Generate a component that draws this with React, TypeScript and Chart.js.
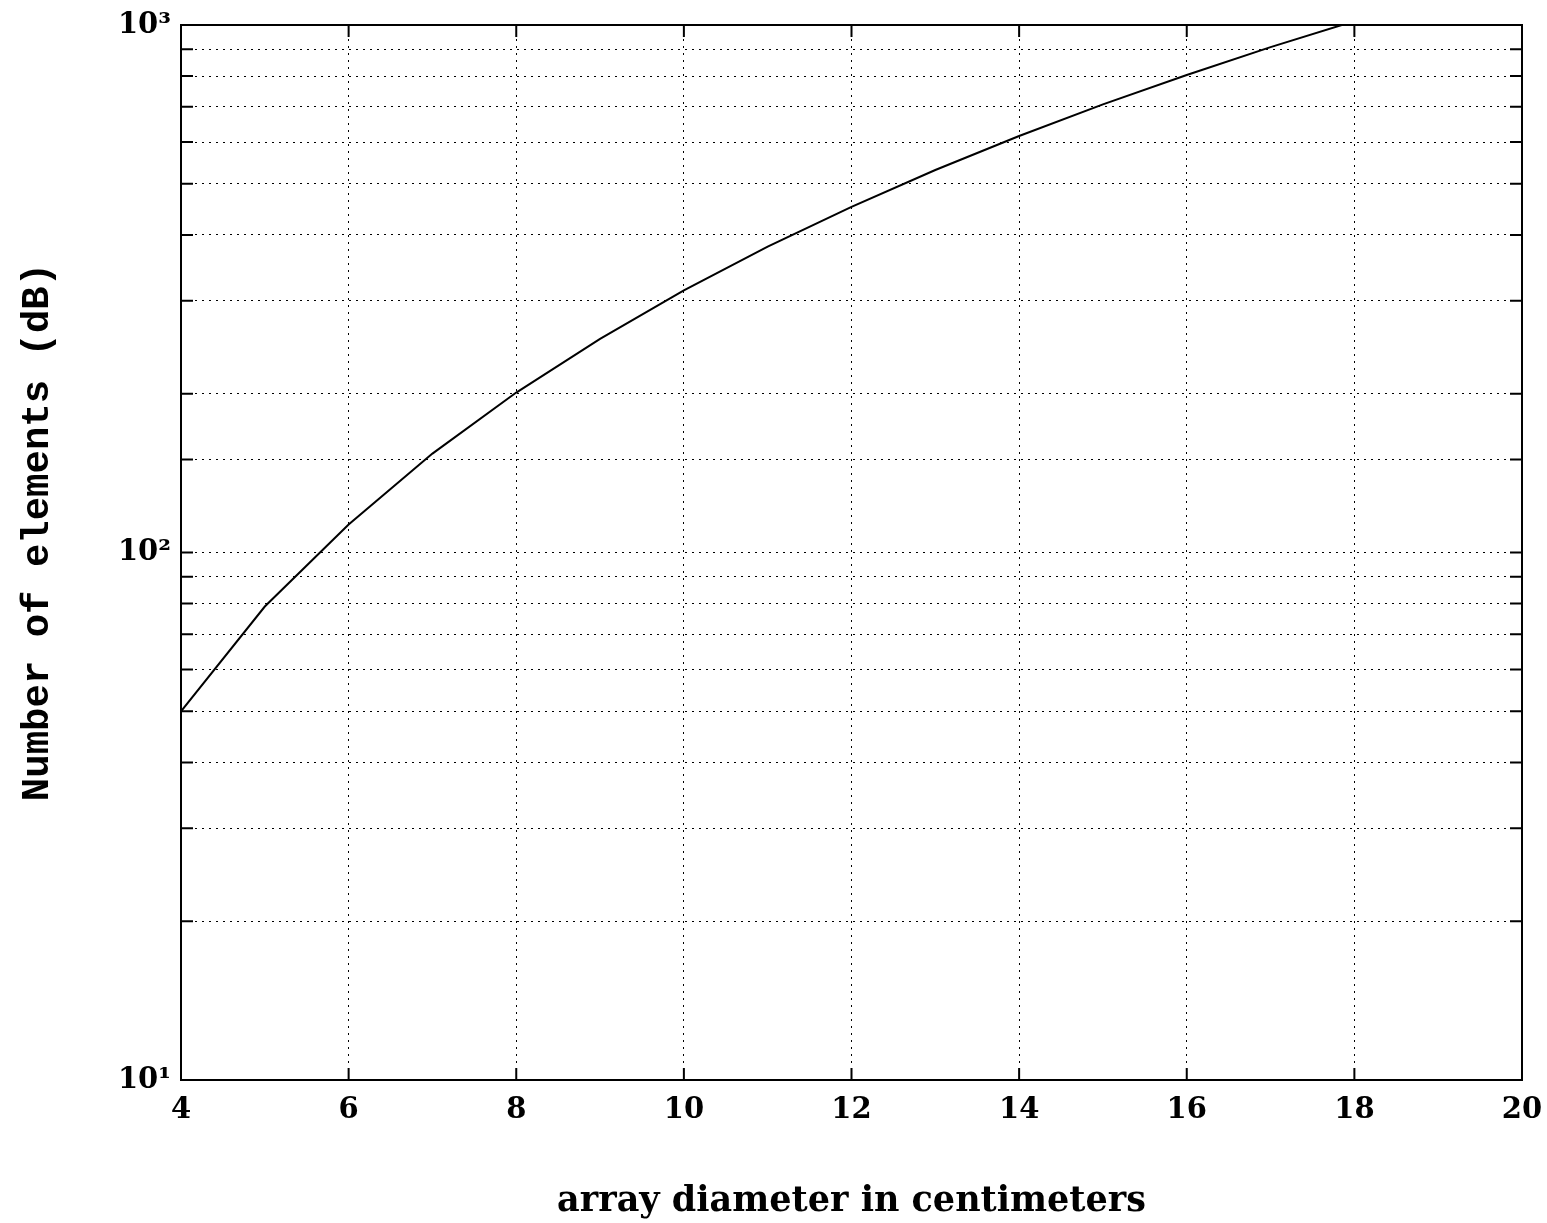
import React, { useEffect, useRef } from "react";
import { Chart, registerables } from "chart.js";

Chart.register(...registerables);

const diameters = [4, 5, 6, 7, 8, 9, 10, 11, 12, 13, 14, 15, 16, 17, 18];
const elements = [50, 79, 113, 154, 201, 254, 314, 380, 452, 531, 616, 707, 804, 908, 1017];
const yTickLabels: Record<number, string> = { 10: "10¹", 100: "10²", 1000: "10³" };
const xTitle = "array diameter in centimeters";
const yTitle = "Number of elements (dB)";

const framePlugin = {
  id: "frameTicks",
  afterDraw(chart: any) {
    const { ctx, chartArea: a, scales } = chart;
    ctx.save();
    ctx.strokeStyle = "#000";
    ctx.lineWidth = 2;
    ctx.setLineDash([]);
    ctx.strokeRect(a.left, a.top, a.right - a.left, a.bottom - a.top);
    const y = scales.y;
    y.ticks.forEach((t: any) => {
      const py = y.getPixelForValue(t.value);
      if (py <= a.top + 1 || py >= a.bottom - 1) return;
      ctx.beginPath();
      ctx.moveTo(a.left, py);
      ctx.lineTo(a.left + 12, py);
      ctx.moveTo(a.right, py);
      ctx.lineTo(a.right - 12, py);
      ctx.stroke();
    });
    const x = scales.x;
    x.ticks.forEach((t: any) => {
      const px = x.getPixelForValue(t.value);
      if (px <= a.left + 1 || px >= a.right - 1) return;
      ctx.beginPath();
      ctx.moveTo(px, a.bottom);
      ctx.lineTo(px, a.bottom - 12);
      ctx.moveTo(px, a.top);
      ctx.lineTo(px, a.top + 12);
      ctx.stroke();
    });
    // y axis title
    ctx.translate(38, 532);
    ctx.rotate(-Math.PI / 2);
    ctx.fillStyle = "#000";
    ctx.font = "bold 39px Liberation Mono, Courier New, monospace";
    ctx.textAlign = "center";
    ctx.textBaseline = "middle";
    ctx.fillText(yTitle, 0, 0);
    ctx.restore();
  },
};

export default function App() {
  const ref = useRef<HTMLCanvasElement>(null);
  useEffect(() => {
    if (!ref.current) return;
    const chart = new Chart(ref.current, {
      type: "line",
      data: {
        datasets: [
          {
            data: diameters.map((d, i) => ({ x: d, y: elements[i] })),
            borderColor: "#000",
            borderWidth: 2,
            pointRadius: 0,
            tension: 0,
            fill: false,
          },
        ],
      },
      options: {
        animation: false,
        responsive: false,
        layout: { padding: { left: 0, top: 25, right: 25, bottom: 0 } },
        plugins: { legend: { display: false }, tooltip: { enabled: false } },
        scales: {
          x: {
            type: "linear",
            min: 4,
            max: 20,
            afterFit: (s: any) => {
              s.height = 143;
              s.paddingLeft = 0;
              s.paddingRight = 0;
            },
            ticks: {
              stepSize: 2,
              color: "#000",
              padding: 13,
              font: { family: "DejaVu Serif, serif", weight: "bold", size: 29 },
            },
            grid: { color: "#000", lineWidth: 1, drawTicks: false },
            border: { display: false, dash: [2, 5] },
            title: {
              display: true,
              text: xTitle,
              color: "#000",
              padding: { top: 0, bottom: 0 },
              font: { family: "DejaVu Serif, serif", weight: "bold", size: 35 },
            },
          },
          y: {
            type: "logarithmic",
            min: 10,
            max: 1000,
            afterFit: (s: any) => {
              s.width = 181;
              s.paddingTop = 0;
              s.paddingBottom = 0;
            },
            ticks: {
              autoSkip: false,
              color: "#000",
              padding: 10,
              font: { family: "DejaVu Serif, serif", weight: "bold", size: 29 },
              callback: (v: any) => yTickLabels[Number(v)] ?? "",
            },
            grid: { color: "#000", lineWidth: 1, drawTicks: false },
            border: { display: false, dash: [2, 5] },
            title: { display: false },
          },
        },
      },
      plugins: [framePlugin],
    });
    return () => chart.destroy();
  }, []);
  return (
    <div style={{ position: "fixed", left: 0, top: 0, width: 1547, height: 1223, background: "#fff" }}>
      <canvas ref={ref} width={1547} height={1223} />
    </div>
  );
}
